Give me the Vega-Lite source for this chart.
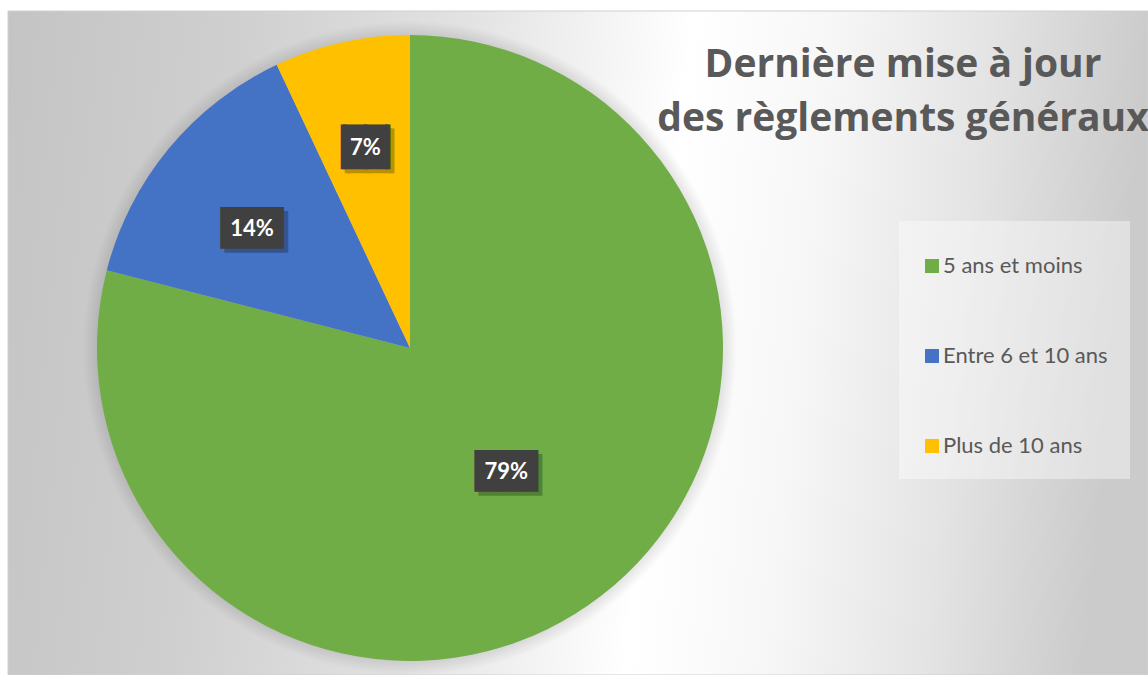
{
  "$schema": "https://vega.github.io/schema/vega-lite/v6.json",
  "autosize": "none",
  "width": 1140,
  "height": 664,
  "padding": {"left": 8, "top": 11, "right": 0, "bottom": 0},
  "background": "#ffffff",
  "config": {"view": {"stroke": null}},
  "title": {
    "text": ["Dernière mise à jour", "des règlements généraux"],
    "anchor": "middle",
    "frame": "group",
    "font": "Open Sans",
    "fontSize": 39,
    "fontWeight": "bold",
    "color": "#595959",
    "lineHeight": 54,
    "dx": 325,
    "offset": -128
  },
  "data": {
    "values": [
      {"cat": "5 ans et moins", "value": 0.79},
      {"cat": "Entre 6 et 10 ans", "value": 0.14},
      {"cat": "Plus de 10 ans", "value": 0.07}
    ]
  },
  "layer": [
    {
      "transform": [{"aggregate": [{"op": "sum", "field": "value", "as": "total"}]}],
      "mark": {
        "type": "rect",
        "stroke": "#d0d0d0",
        "strokeWidth": 1,
        "fill": {
          "gradient": "linear",
          "x1": 0, "y1": 0, "x2": 1, "y2": 0.06,
          "stops": [
            {"offset": 0, "color": "#c4c4c4"},
            {"offset": 0.2, "color": "#cfcfcf"},
            {"offset": 0.4, "color": "#e2e2e2"},
            {"offset": 0.6, "color": "#ffffff"},
            {"offset": 0.72, "color": "#f7f7f7"},
            {"offset": 0.86, "color": "#e4e4e4"},
            {"offset": 1, "color": "#cbcbcb"}
          ]
        }
      },
      "encoding": {}
    },
    {
      "transform": [{"aggregate": [{"op": "sum", "field": "value", "as": "total"}]}],
      "mark": {
        "type": "arc",
        "x": 402, "y": 337, "radius": 327,
        "fill": {
          "gradient": "radial",
          "x1": 0.5, "y1": 0.5, "r1": 0.45,
          "x2": 0.5, "y2": 0.5, "r2": 0.5,
          "stops": [
            {"offset": 0, "color": "rgba(0,0,0,0.14)"},
            {"offset": 0.57, "color": "rgba(0,0,0,0.1)"},
            {"offset": 1, "color": "rgba(0,0,0,0)"}
          ]
        }
      },
      "encoding": {
        "theta": {"field": "total", "type": "quantitative"}
      }
    },
    {
      "mark": {"type": "arc", "x": 402, "y": 337, "radius": 313, "stroke": null},
      "encoding": {
        "theta": {"field": "value", "type": "quantitative", "stack": true},
        "order": {"field": "cat", "type": "ordinal"},
        "color": {
          "field": "cat",
          "type": "nominal",
          "scale": {
            "domain": ["5 ans et moins", "Entre 6 et 10 ans", "Plus de 10 ans"],
            "range": ["#70AD47", "#4472C4", "#FFC000"]
          },
          "legend": {
            "orient": "none",
            "legendX": 891,
            "legendY": 210,
            "title": " ",
            "titleFontSize": 8,
            "titlePadding": 4,
            "symbolType": "square",
            "symbolSize": 196,
            "symbolStrokeWidth": 0,
            "labelFont": "Lato",
            "labelFontSize": 22,
            "labelColor": "#595959",
            "labelOffset": 0,
            "labelLimit": 300,
            "rowPadding": 68,
            "padding": 22,
            "fillColor": "rgba(255,255,255,0.4)"
          }
        }
      }
    },
    {
      "mark": {
        "type": "text",
        "x": 402, "y": 337,
        "radius": {"expr": "datum.value > 0.5 ? 157 : 205"},
        "text": {"expr": "datum.value < 0.1 ? '▕██▏' : '███'"},
        "font": "DejaVu Sans Mono",
        "fontSize": 35,
        "baseline": "middle",
        "align": "center",
        "fill": "#000000",
        "stroke": "#000000",
        "strokeWidth": {"expr": "datum.value < 0.1 ? 3 : 0"},
        "opacity": 0.25,
        "dx": 4,
        "dy": {"expr": "datum.value > 0.1 && datum.value < 0.5 ? 16 : 4"}
      },
      "encoding": {
        "theta": {"field": "value", "type": "quantitative", "stack": true},
        "order": {"field": "cat", "type": "ordinal"}
      }
    },
    {
      "mark": {
        "type": "text",
        "x": 402, "y": 337,
        "radius": {"expr": "datum.value > 0.5 ? 157 : 205"},
        "text": {"expr": "datum.value < 0.1 ? '▕██▏' : '███'"},
        "font": "DejaVu Sans Mono",
        "fontSize": 35,
        "baseline": "middle",
        "align": "center",
        "fill": "#404040",
        "stroke": "#404040",
        "strokeWidth": {"expr": "datum.value < 0.1 ? 3 : 0"},
        "dy": {"expr": "datum.value > 0.1 && datum.value < 0.5 ? 12 : 0"}
      },
      "encoding": {
        "theta": {"field": "value", "type": "quantitative", "stack": true},
        "order": {"field": "cat", "type": "ordinal"}
      }
    },
    {
      "mark": {
        "type": "text",
        "x": 402, "y": 337,
        "radius": {"expr": "datum.value > 0.5 ? 157 : 205"},
        "font": "Lato",
        "fontSize": 22,
        "fontWeight": "bold",
        "baseline": "middle",
        "align": "center",
        "fill": "#ffffff",
        "dy": {"expr": "datum.value > 0.1 && datum.value < 0.5 ? 12 : 0"}
      },
      "encoding": {
        "theta": {"field": "value", "type": "quantitative", "stack": true},
        "order": {"field": "cat", "type": "ordinal"},
        "text": {"field": "value", "type": "quantitative", "format": ".0%"}
      }
    }
  ]
}
